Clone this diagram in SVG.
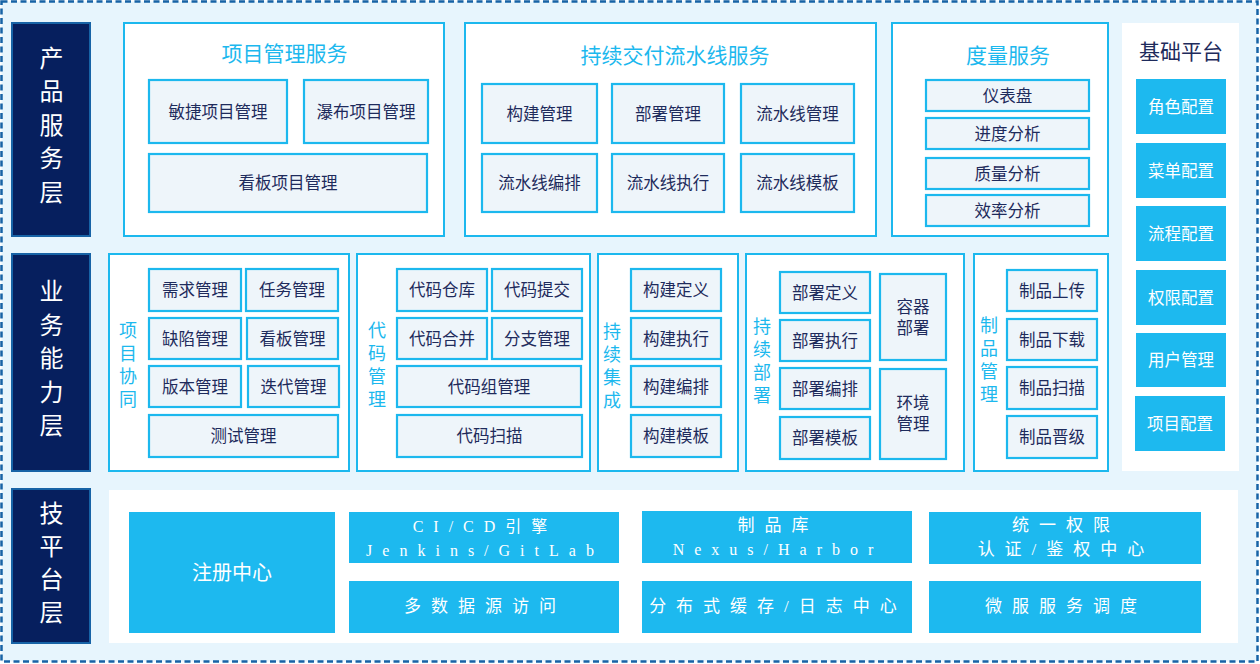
<svg xmlns="http://www.w3.org/2000/svg" width="1260" height="664" viewBox="0 0 1260 664">
<style>
text{font-family:"Noto Sans CJK SC","Noto Sans",sans-serif;}
.bg{fill:#e7f5fd;stroke:#1763a6;stroke-width:2.5;stroke-dasharray:6 3.5;}
.lay{fill:#061f5e;stroke:#1763a6;stroke-width:2;}
.lt{fill:#ffffff;font-size:24px;text-anchor:middle;}
.grp{fill:#ffffff;stroke:#1cb8ee;stroke-width:2;}
.pnl{fill:#ffffff;}
.nd{fill:#eef5fa;stroke:#1cb8ee;stroke-width:2.2;}
.t{fill:#1e2b5c;font-size:16.5px;text-anchor:middle;}
.ttl{fill:#1cb8ee;font-size:21px;text-anchor:middle;}
.ttd{fill:#1e2b5c;font-size:21px;text-anchor:middle;}
.vt{fill:#1cb8ee;font-size:18px;text-anchor:middle;}
.btn{fill:#1db9ef;}
.bt{fill:#ffffff;font-size:16.5px;text-anchor:middle;}
.wt{fill:#ffffff;font-size:17px;text-anchor:middle;letter-spacing:10px;font-family:"Liberation Serif","Noto Sans CJK SC",serif;}
</style>
<rect class="bg" x="1.5" y="1.5" width="1256" height="660"/>

<g id="layer-product">
<rect class="lay" x="12" y="23" width="78" height="213"/>
<text class="lt"><tspan x="51.5" y="66.5">产</tspan><tspan x="51.5" dy="33.5">品</tspan><tspan x="51.5" dy="33.5">服</tspan><tspan x="51.5" dy="33.5">务</tspan><tspan x="51.5" dy="33.5">层</tspan></text>
</g>
<g id="layer-business">
<rect class="lay" x="12" y="254" width="78" height="217"/>
<text class="lt"><tspan x="51.5" y="300">业</tspan><tspan x="51.5" dy="33.5">务</tspan><tspan x="51.5" dy="33.5">能</tspan><tspan x="51.5" dy="33.5">力</tspan><tspan x="51.5" dy="33.5">层</tspan></text>
</g>
<g id="layer-tech">
<rect class="lay" x="12" y="489" width="78" height="154"/>
<text class="lt"><tspan x="51.5" y="522">技</tspan><tspan x="51.5" dy="33">平</tspan><tspan x="51.5" dy="33">台</tspan><tspan x="51.5" dy="33">层</tspan></text>
</g>

<g id="pm-service">
<rect class="grp" x="124" y="23" width="320" height="213"/>
<text class="ttl" x="284.5" y="61">项目管理服务</text>
<g id="agile"><rect class="nd" x="149" y="80" width="138" height="63"/><text class="t" x="218" y="117.5">敏捷项目管理</text></g>
<g id="waterfall"><rect class="nd" x="304" y="80" width="124" height="63"/><text class="t" x="366" y="117.5">瀑布项目管理</text></g>
<g id="kanban-pm"><rect class="nd" x="149" y="154" width="278" height="58"/><text class="t" x="288" y="189">看板项目管理</text></g>
</g>

<g id="cd-service">
<rect class="grp" x="465" y="23" width="411" height="213"/>
<text class="ttl" x="675" y="63">持续交付流水线服务</text>
<g id="build-mgmt"><rect class="nd" x="482" y="84" width="115" height="59"/><text class="t" x="539.5" y="119.5">构建管理</text></g>
<g id="deploy-mgmt"><rect class="nd" x="612" y="84" width="112" height="59"/><text class="t" x="668" y="119.5">部署管理</text></g>
<g id="pipeline-mgmt"><rect class="nd" x="741" y="84" width="113" height="59"/><text class="t" x="797.5" y="119.5">流水线管理</text></g>
<g id="pipeline-orch"><rect class="nd" x="482" y="154" width="115" height="58"/><text class="t" x="539.5" y="189">流水线编排</text></g>
<g id="pipeline-exec"><rect class="nd" x="612" y="154" width="112" height="58"/><text class="t" x="668" y="189">流水线执行</text></g>
<g id="pipeline-tpl"><rect class="nd" x="741" y="154" width="113" height="58"/><text class="t" x="797.5" y="189">流水线模板</text></g>
</g>

<g id="metric-service">
<rect class="grp" x="892" y="23" width="216" height="213"/>
<text class="ttl" x="1008" y="63">度量服务</text>
<g id="dashboard"><rect class="nd" x="926" y="80" width="163" height="31"/><text class="t" x="1007.5" y="101.5">仪表盘</text></g>
<g id="progress"><rect class="nd" x="926" y="118" width="163" height="31"/><text class="t" x="1007.5" y="139.5">进度分析</text></g>
<g id="quality"><rect class="nd" x="926" y="158" width="163" height="31"/><text class="t" x="1007.5" y="179.5">质量分析</text></g>
<g id="efficiency"><rect class="nd" x="926" y="195" width="163" height="31"/><text class="t" x="1007.5" y="216.5">效率分析</text></g>
</g>

<g id="base-platform">
<rect class="pnl" x="1122" y="23" width="117" height="448"/>
<text class="ttd" x="1181" y="59">基础平台</text>
<g id="role-cfg"><rect class="btn" x="1136" y="79" width="90" height="55"/><text class="bt" x="1181" y="112.5">角色配置</text></g>
<g id="menu-cfg"><rect class="btn" x="1136" y="143" width="90" height="55"/><text class="bt" x="1181" y="176.5">菜单配置</text></g>
<g id="flow-cfg"><rect class="btn" x="1136" y="206" width="90" height="55"/><text class="bt" x="1181" y="239.5">流程配置</text></g>
<g id="perm-cfg"><rect class="btn" x="1136" y="270" width="90" height="55"/><text class="bt" x="1181" y="303.5">权限配置</text></g>
<g id="user-mgmt"><rect class="btn" x="1136" y="333" width="90" height="54"/><text class="bt" x="1181" y="366">用户管理</text></g>
<g id="proj-cfg"><rect class="btn" x="1135" y="396" width="90" height="55"/><text class="bt" x="1180" y="429.5">项目配置</text></g>
</g>

<g id="proj-collab">
<rect class="grp" x="109" y="254" width="240" height="217"/>
<text class="vt"><tspan x="128" y="337">项</tspan><tspan x="128" dy="23">目</tspan><tspan x="128" dy="23">协</tspan><tspan x="128" dy="23">同</tspan></text>
<g id="req"><rect class="nd" x="149" y="269" width="92" height="42"/><text class="t" x="195" y="296">需求管理</text></g>
<g id="task"><rect class="nd" x="246" y="269" width="92" height="42"/><text class="t" x="292" y="296">任务管理</text></g>
<g id="defect"><rect class="nd" x="149" y="318" width="92" height="41"/><text class="t" x="195" y="344.5">缺陷管理</text></g>
<g id="kanban"><rect class="nd" x="247" y="318" width="91" height="41"/><text class="t" x="292.5" y="344.5">看板管理</text></g>
<g id="version"><rect class="nd" x="149" y="366" width="92" height="41"/><text class="t" x="195" y="392.5">版本管理</text></g>
<g id="iteration"><rect class="nd" x="248" y="366" width="91" height="41"/><text class="t" x="293.5" y="392.5">迭代管理</text></g>
<g id="test"><rect class="nd" x="149" y="415" width="189" height="42"/><text class="t" x="243.5" y="442">测试管理</text></g>
</g>

<g id="code-mgmt">
<rect class="grp" x="357" y="254" width="233" height="217"/>
<text class="vt"><tspan x="377" y="337">代</tspan><tspan x="377" dy="23">码</tspan><tspan x="377" dy="23">管</tspan><tspan x="377" dy="23">理</tspan></text>
<g id="repo"><rect class="nd" x="397" y="269" width="90" height="42"/><text class="t" x="442" y="296">代码仓库</text></g>
<g id="commit"><rect class="nd" x="492" y="269" width="90" height="42"/><text class="t" x="537" y="296">代码提交</text></g>
<g id="merge"><rect class="nd" x="397" y="318" width="90" height="41"/><text class="t" x="442" y="344.5">代码合并</text></g>
<g id="branch"><rect class="nd" x="492" y="318" width="90" height="41"/><text class="t" x="537" y="344.5">分支管理</text></g>
<g id="codegroup"><rect class="nd" x="397" y="366" width="184" height="41"/><text class="t" x="489" y="392.5">代码组管理</text></g>
<g id="codescan"><rect class="nd" x="397" y="415" width="185" height="42"/><text class="t" x="489.5" y="442">代码扫描</text></g>
</g>

<g id="ci">
<rect class="grp" x="598" y="254" width="140" height="217"/>
<text class="vt"><tspan x="612" y="338">持</tspan><tspan x="612" dy="23">续</tspan><tspan x="612" dy="23">集</tspan><tspan x="612" dy="23">成</tspan></text>
<g id="build-def"><rect class="nd" x="631" y="269" width="90" height="42"/><text class="t" x="676" y="296">构建定义</text></g>
<g id="build-exec"><rect class="nd" x="631" y="318" width="90" height="41"/><text class="t" x="676" y="344.5">构建执行</text></g>
<g id="build-orch"><rect class="nd" x="631" y="366" width="90" height="41"/><text class="t" x="676" y="392.5">构建编排</text></g>
<g id="build-tpl"><rect class="nd" x="631" y="415" width="90" height="42"/><text class="t" x="676" y="442">构建模板</text></g>
</g>

<g id="cdeploy">
<rect class="grp" x="746" y="254" width="218" height="217"/>
<text class="vt"><tspan x="762" y="333">持</tspan><tspan x="762" dy="23">续</tspan><tspan x="762" dy="23">部</tspan><tspan x="762" dy="23">署</tspan></text>
<g id="dep-def"><rect class="nd" x="780" y="272" width="90" height="41"/><text class="t" x="825" y="298.5">部署定义</text></g>
<g id="dep-exec"><rect class="nd" x="780" y="320" width="90" height="41"/><text class="t" x="825" y="346.5">部署执行</text></g>
<g id="dep-orch"><rect class="nd" x="780" y="368" width="90" height="41"/><text class="t" x="825" y="394.5">部署编排</text></g>
<g id="dep-tpl"><rect class="nd" x="780" y="417" width="90" height="42"/><text class="t" x="825" y="444">部署模板</text></g>
<g id="container"><rect class="nd" x="880" y="274" width="66" height="86"/><text class="t"><tspan x="913" y="313">容器</tspan><tspan x="913" dy="20.5">部署</tspan></text></g>
<g id="env"><rect class="nd" x="880" y="369" width="66" height="90"/><text class="t"><tspan x="913" y="409">环境</tspan><tspan x="913" dy="20.5">管理</tspan></text></g>
</g>

<g id="artifact">
<rect class="grp" x="974" y="254" width="134" height="217"/>
<text class="vt"><tspan x="989" y="332">制</tspan><tspan x="989" dy="23">品</tspan><tspan x="989" dy="23">管</tspan><tspan x="989" dy="23">理</tspan></text>
<g id="upload"><rect class="nd" x="1007" y="270" width="90" height="41"/><text class="t" x="1052" y="296.5">制品上传</text></g>
<g id="download"><rect class="nd" x="1007" y="319" width="90" height="41"/><text class="t" x="1052" y="345.5">制品下载</text></g>
<g id="artscan"><rect class="nd" x="1007" y="367" width="90" height="42"/><text class="t" x="1052" y="394">制品扫描</text></g>
<g id="promote"><rect class="nd" x="1007" y="416" width="90" height="42"/><text class="t" x="1052" y="443">制品晋级</text></g>
</g>

<g id="tech-platform">
<rect class="pnl" x="109" y="490" width="1129" height="153"/>
<g id="registry"><rect class="btn" x="129" y="512" width="206" height="121"/><text class="bt" style="font-size:20px" x="232" y="580">注册中心</text></g>
<g id="cicd-engine"><rect class="btn" x="349" y="512" width="270" height="51"/><text class="wt" x="485" y="532" style="font-size:16px">CI/CD引擎</text><text class="wt" x="485" y="556" style="font-size:16px">Jenkins/GitLab</text></g>
<g id="multi-ds"><rect class="btn" x="349" y="581" width="270" height="52"/><text class="wt" x="485" y="612">多数据源访问</text></g>
<g id="repo-lib"><rect class="btn" x="642" y="511" width="270" height="52"/><text class="wt" x="778" y="531">制品库</text><text class="wt" x="778" y="555" style="font-size:16px">Nexus/Harbor</text></g>
<g id="cache-log"><rect class="btn" x="642" y="581" width="270" height="52"/><text class="wt" x="778" y="612">分布式缓存/日志中心</text></g>
<g id="auth"><rect class="btn" x="929" y="512" width="272" height="52"/><text class="wt" x="1066" y="531">统一权限</text><text class="wt" x="1066" y="555">认证/鉴权中心</text></g>
<g id="ms-sched"><rect class="btn" x="929" y="581" width="272" height="52"/><text class="wt" x="1066" y="612">微服服务调度</text></g>
</g>
<g id="connectors"></g>
</svg>
